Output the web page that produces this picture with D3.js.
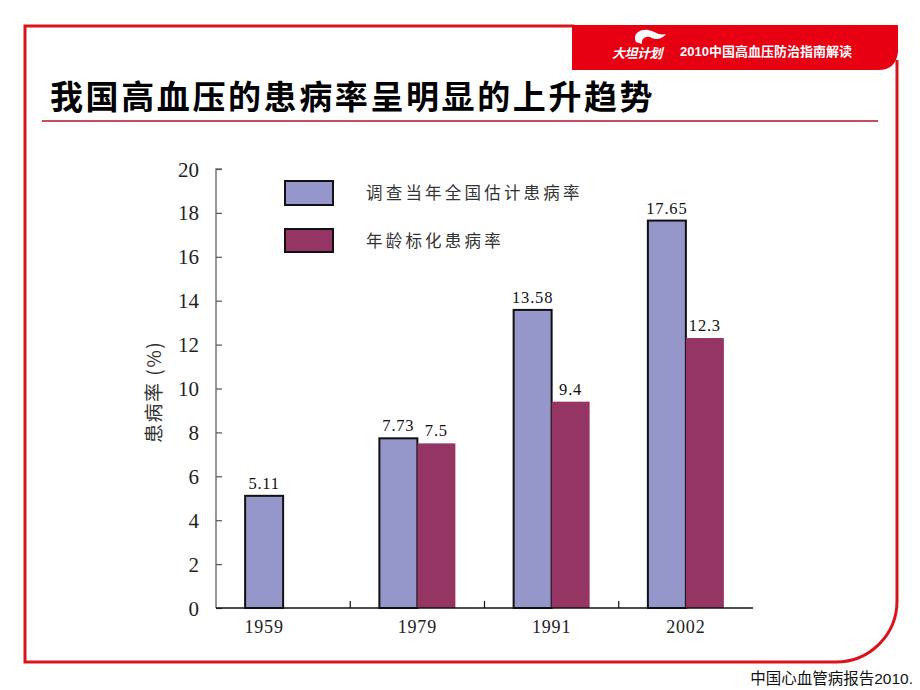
<!DOCTYPE html>
<html><head><meta charset="utf-8">
<script src="https://cdn.jsdelivr.net/npm/d3@7/dist/d3.min.js"></script>
<style>html,body{margin:0;padding:0;background:#fff;}svg{display:block;}</style>
</head><body>
<script>
const years = ["1959", "1979", "1991", "2002"];
const surveyRate = [5.11, 7.73, 13.58, 17.65];
const standardRate = [null, 7.5, 9.4, 12.3];
const surveyLabels = ["5.11", "7.73", "13.58", "17.65"];
const standardLabels = [null, "7.5", "9.4", "12.3"];
const yTicks = [0, 2, 4, 6, 8, 10, 12, 14, 16, 18, 20];
const seriesNames = ["调查当年全国估计患病率", "年龄标化患病率"];
const seriesColors = ["#9596c9", "#953563"];
const titleText = "我国高血压的患病率呈明显的上升趋势";
const bannerText = "2010中国高血压防治指南解读";
const footerText = "中国心血管病报告2010.";
const yTitle = "患病率 (%)";

const W = 920, H = 690;
const svg = d3.select("body").append("svg").attr("width", W).attr("height", H);
const red = "#d9141c";

// frame
svg.append("path")
  .attr("d", "M574,26 L25,26 L25,662 L836,662 A61,61 0 0 0 897,601 L897,60")
  .attr("fill", "none").attr("stroke", red).attr("stroke-width", 3);
// banner
svg.append("path")
  .attr("d", "M572,25 L898,25 L898,52 Q896,70 878,70 L572,70 Z")
  .attr("fill", "#e60012");
// logo flame
svg.append("path")
  .attr("d", "M636,42 C632,34 640,29 648,30 C655,31 658,36 666,34 C662,40 654,40 650,37 C646,36 641,38 642,44 Z")
  .attr("fill", "#fff");
svg.append("text").attr("x", 612).attr("y", 58)
  .attr("font-family", "Noto Sans CJK SC").attr("font-weight", "bold").attr("font-style", "italic")
  .attr("font-size", 13).attr("fill", "#fff").attr("letter-spacing", -0.5).text("大坦计划");
svg.append("text").attr("x", 680).attr("y", 56)
  .attr("font-family", "Liberation Sans, Noto Sans CJK SC").attr("font-weight", "bold")
  .attr("font-size", 13).attr("fill", "#fff").text(bannerText);

// title
svg.append("text").attr("x", 50).attr("y", 109)
  .attr("font-family", "Noto Sans CJK SC").attr("font-weight", "bold")
  .attr("font-size", 33).attr("letter-spacing", 2.6).attr("fill", "#000").text(titleText);
svg.append("line").attr("x1", 42).attr("x2", 878).attr("y1", 121).attr("y2", 121)
  .attr("stroke", "#c8505a").attr("stroke-width", 2);

// scales
const x = d3.scaleBand().domain(years).range([216, 753]);
const barW = 38;
const y = d3.scaleLinear().domain([0, 20]).range([608, 169]);

// y axis
const yAxisG = svg.append("g").attr("transform", "translate(216,0)")
  .call(d3.axisRight(y).tickValues(yTicks).tickSize(6).tickFormat(""));
yAxisG.select(".domain").attr("stroke", "#777").attr("stroke-width", 1.5).attr("d", `M6,${y(20)}H0V${y(0)}`);
yAxisG.selectAll(".tick line").attr("stroke", "#555").attr("stroke-width", 1.2);
svg.append("g").selectAll("text").data(yTicks).join("text")
  .attr("x", 199).attr("y", d => y(d)).attr("dy", "0.36em").attr("text-anchor", "end")
  .attr("font-family", "Liberation Serif").attr("font-size", 21).attr("fill", "#222")
  .text(d => d);

// y title
svg.append("text").attr("transform", `translate(161,392) rotate(-90)`)
  .attr("text-anchor", "middle").attr("font-family", "Noto Sans CJK SC")
  .attr("font-size", 19).attr("letter-spacing", 1.5).attr("fill", "#333").text(yTitle);

// bars
const groups = years.map((yr, i) => ({ yr, i }));
const cx = d => x(d.yr) + x.bandwidth() / 2;
svg.append("g").selectAll("rect").data(groups).join("rect")
  .attr("x", d => cx(d) - barW).attr("width", barW)
  .attr("y", d => y(surveyRate[d.i])).attr("height", d => y(0) - y(surveyRate[d.i]))
  .attr("fill", seriesColors[0]).attr("stroke", "#111").attr("stroke-width", 2);
svg.append("g").selectAll("rect").data(groups.filter(d => standardRate[d.i] != null)).join("rect")
  .attr("x", d => cx(d)).attr("width", barW)
  .attr("y", d => y(standardRate[d.i])).attr("height", d => y(0) - y(standardRate[d.i]))
  .attr("fill", seriesColors[1]);

// value labels
svg.append("g").selectAll("text").data(groups).join("text")
  .attr("x", d => cx(d) - barW / 2).attr("y", d => y(surveyRate[d.i]) - 7)
  .attr("text-anchor", "middle").attr("font-family", "Liberation Serif").attr("font-size", 16.5)
  .attr("letter-spacing", 0.8).attr("fill", "#111").text(d => surveyLabels[d.i]);
svg.append("g").selectAll("text").data(groups.filter(d => standardRate[d.i] != null)).join("text")
  .attr("x", d => cx(d) + barW / 2).attr("y", d => y(standardRate[d.i]) - 7)
  .attr("text-anchor", "middle").attr("font-family", "Liberation Serif").attr("font-size", 16.5)
  .attr("letter-spacing", 0.8).attr("fill", "#111").text(d => standardLabels[d.i]);

// x axis
const xAxisG = svg.append("g").attr("transform", `translate(0,${y(0)})`)
  .call(d3.axisTop(x).tickSize(0).tickFormat(""));
xAxisG.select(".domain").attr("stroke", "#111").attr("stroke-width", 1.5).attr("d", `M216,0H753`);
svg.append("g").selectAll("line").data(years.slice(1)).join("line")
  .attr("x1", d => x(d)).attr("x2", d => x(d)).attr("y1", y(0) - 7).attr("y2", y(0))
  .attr("stroke", "#111").attr("stroke-width", 1.2);
svg.append("g").selectAll("text").data(groups).join("text")
  .attr("x", d => standardRate[d.i] == null ? cx(d) - barW / 2 : cx(d))
  .attr("y", 633).attr("text-anchor", "middle")
  .attr("font-family", "Liberation Serif").attr("font-size", 18).attr("letter-spacing", 0.8)
  .attr("fill", "#222").text(d => d.yr);

// legend
const leg = svg.append("g");
seriesNames.forEach((name, i) => {
  leg.append("rect").attr("x", 285).attr("y", 181 + i * 48).attr("width", 48).attr("height", i === 0 ? 24 : 23)
    .attr("fill", seriesColors[i]).attr("stroke", "#111").attr("stroke-width", 2);
  leg.append("text").attr("x", 366).attr("y", 193 + i * 48).attr("dy", "0.36em")
    .attr("font-family", "Noto Sans CJK SC").attr("font-size", 16.5).attr("letter-spacing", 3.2)
    .attr("fill", "#333").text(name);
});

// footer
svg.append("text").attr("x", 913).attr("y", 684).attr("text-anchor", "end")
  .attr("font-family", "Liberation Sans, Noto Sans CJK SC").attr("font-size", 15.5).attr("fill", "#111").text(footerText);
</script>
</body></html>
